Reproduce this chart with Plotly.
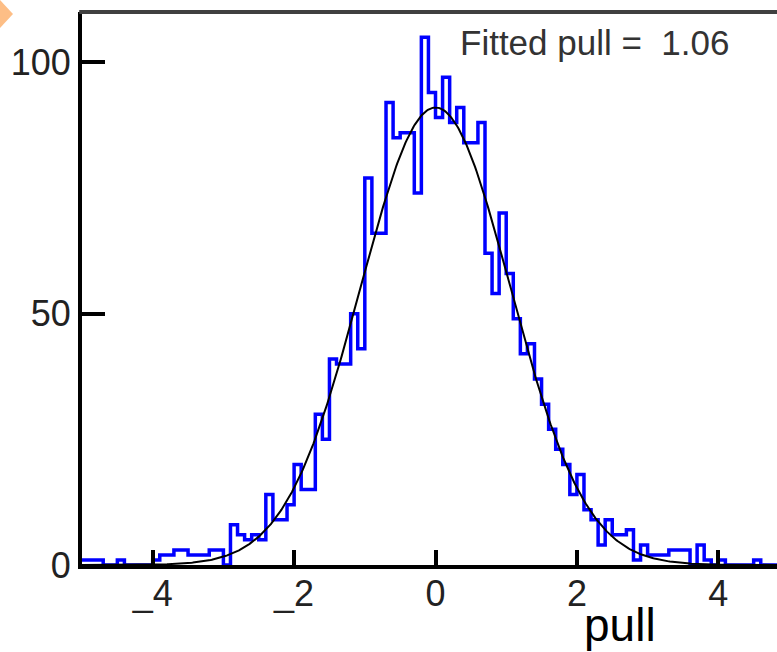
import numpy as np
import plotly.graph_objects as go

# ---- data ----
bin_low = -5.0
bin_width = 0.1
counts = [
    1, 1, 1, 0, 0, 1, 0, 0, 0, 0,
    1, 2, 2, 3, 3, 2, 2, 2, 3, 3,
    0, 8, 6, 5, 6, 5, 14, 9, 9, 12,
    20, 15, 15, 30, 25, 41, 40, 40, 50, 43,
    77, 66, 66, 92, 85, 86, 86, 74, 105, 94,
    89, 97, 88, 91, 84, 84, 88, 62, 54, 70,
    58, 49, 42, 44, 37, 32, 27, 23, 20, 14,
    18, 11, 9, 4, 9, 6, 6, 7, 1, 4,
    2, 2, 2, 3, 3, 3, 0, 4, 1, 0,
    1, 0, 0, 0, 0, 1, 0, 0, 0, 0,
]
x_tick_vals = [-4, -2, 0, 2, 4]
x_tick_text = ["_4", "_2", "0", "2", "4"]
y_tick_vals = [0, 50, 100]
y_tick_text = ["0", "50", "100"]

# Gaussian fit parameters
fit_amplitude = 91.0
fit_mean = 0.0
fit_sigma = 1.06
fit_label = "Fitted pull =\u00a0\u00a01.06"
x_title = "pull"

# ---- build traces ----
edges = bin_low + bin_width * np.arange(len(counts) + 1)
step_y = list(counts) + [counts[-1]]

fit_x = np.linspace(-5, 5, 600)
fit_y = fit_amplitude * np.exp(-0.5 * ((fit_x - fit_mean) / fit_sigma) ** 2)

FONT = "Liberation Sans, Arial, Helvetica, sans-serif"

fig = go.Figure()
fig.add_trace(go.Scatter(x=edges, y=step_y, mode="lines", line_shape="hv",
                         line=dict(color="#0000ff", width=3.5), hoverinfo="skip"))
fig.add_trace(go.Scatter(x=fit_x, y=fit_y, mode="lines",
                         line=dict(color="black", width=2), hoverinfo="skip"))

L, R, T, B = 82, 0, 12, 87
W, H = 777, 652
pw, ph = W - L - R, H - T - B

fig.update_layout(
    width=W, height=H,
    margin=dict(l=L, r=R, t=T, b=B),
    paper_bgcolor="white", plot_bgcolor="white",
    showlegend=False,
    xaxis=dict(range=[-5, 4.83], showline=True, linecolor="black", linewidth=4,
               ticks="inside", ticklen=15, tickwidth=4, tickcolor="black",
               tickvals=x_tick_vals, ticktext=x_tick_text,
               tickfont=dict(family=FONT, size=36, color="#222"),
               ticklabelstandoff=-6,
               showgrid=False, zeroline=False),
    yaxis=dict(range=[0, 110], showline=True, linecolor="black", linewidth=4,
               ticks="inside", ticklen=23, tickwidth=4, tickcolor="black",
               tickvals=y_tick_vals, ticktext=y_tick_text,
               tickfont=dict(family=FONT, size=36, color="#222"),
               showgrid=False, zeroline=False),
    annotations=[
        dict(text=fit_label, xref="paper", yref="paper",
             x=(458 - L) / pw, y=(565 - 43) / ph, xanchor="left", yanchor="middle",
             showarrow=False, font=dict(family=FONT, size=35, color="#333")),
        dict(text=x_title, xref="paper", yref="paper",
             x=(620 - L) / pw, y=(565 - 625) / ph, xanchor="center", yanchor="middle",
             showarrow=False, font=dict(family=FONT, size=46, color="black")),
    ],
    shapes=[
        dict(type="line", xref="paper", yref="paper", x0=-0.004, x1=1.01, y0=1, y1=1,
             line=dict(color="#404040", width=4)),
        dict(type="path", xref="paper", yref="paper",
             path="M %f,%f L %f,%f L %f,%f Z" % (
                 (0 - L) / pw, (565 - 0) / ph,
                 (13 - L) / pw, (565 - 14) / ph,
                 (0 - L) / pw, (565 - 28) / ph),
             fillcolor="#FDBE86", line=dict(width=0)),
    ],
)

fig.write_html("out.html")
